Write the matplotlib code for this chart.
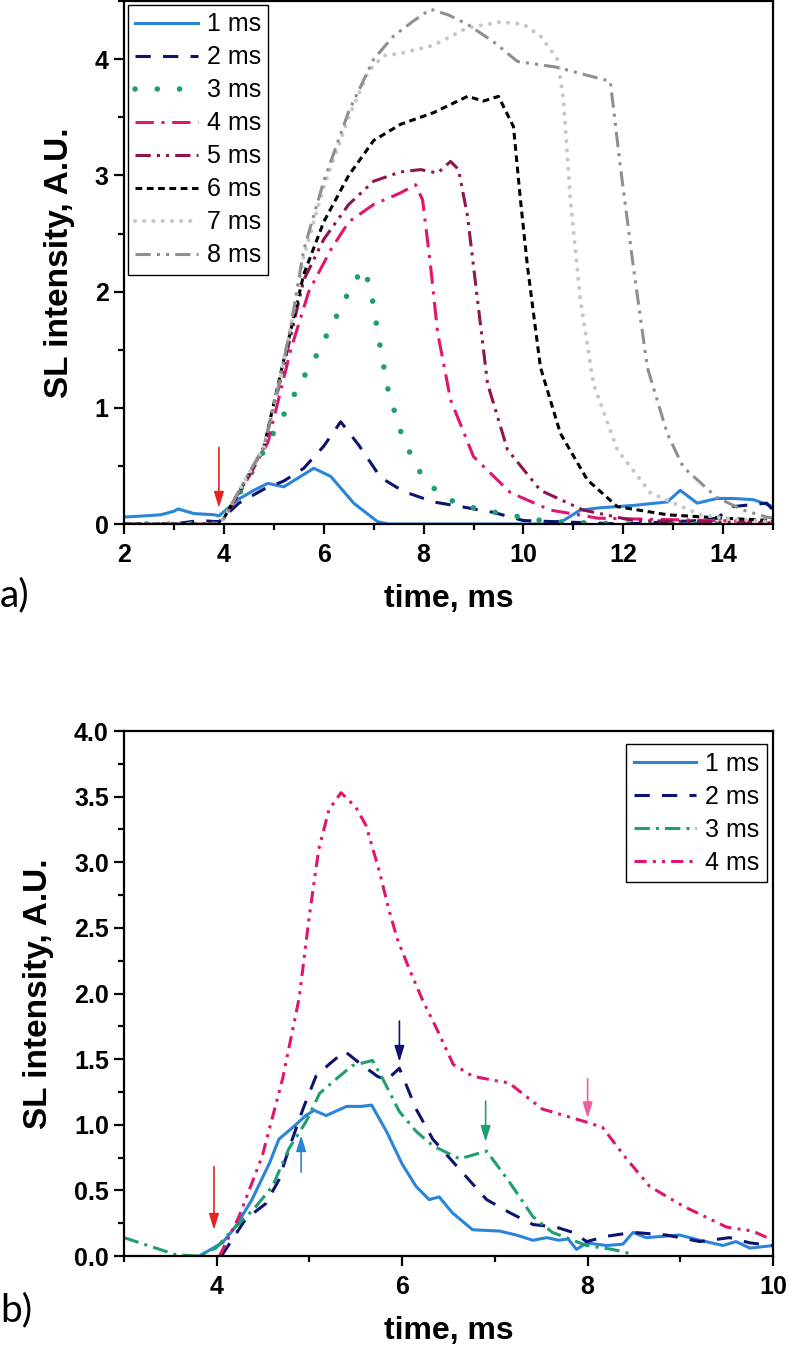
import numpy as np
import matplotlib
matplotlib.use('Agg')
import matplotlib.pyplot as plt
from matplotlib.ticker import MultipleLocator, FormatStrFormatter

plt.rcParams['font.family'] = ['Liberation Sans', 'DejaVu Sans']
plt.rcParams['font.weight'] = 'bold'
plt.rcParams['axes.labelweight'] = 'bold'

# ---- panel a) data: SL intensity vs time for pulse lengths 1..8 ms
a_labels = ['1 ms', '2 ms', '3 ms', '4 ms', '5 ms', '6 ms', '7 ms', '8 ms']

a_t1 = [2.0, 2.4, 2.74, 3.0, 3.08, 3.4, 3.8, 3.9, 4.28, 4.6, 4.88, 5.2, 5.5, 5.8, 6.14, 6.6, 7.08, 7.3,
        10.5, 10.8, 11.14, 11.54, 12.2, 12.88, 13.14, 13.48, 13.88, 14.2, 14.6, 14.94, 15.0]
a_v1 = [0.06, 0.07, 0.08, 0.11, 0.13, 0.09, 0.08, 0.07, 0.21, 0.29, 0.35, 0.32, 0.4, 0.48, 0.41, 0.18, 0.02, 0.0,
        0.0, 0.03, 0.12, 0.14, 0.16, 0.19, 0.29, 0.18, 0.22, 0.22, 0.21, 0.16, 0.14]

a_t2 = [2.0, 3.0, 3.5, 3.9, 4.0, 4.3, 4.8, 5.2, 5.6, 6.0, 6.34, 6.7, 7.14, 7.6, 8.2, 8.88, 9.4, 10.0,
        12.0, 13.0, 13.5, 13.87, 14.2, 14.87, 15.0]
a_v2 = [0.0, 0.0, 0.03, 0.02, 0.06, 0.18, 0.3, 0.37, 0.48, 0.67, 0.88, 0.68, 0.4, 0.28, 0.19, 0.14, 0.1, 0.03,
        0.0, 0.02, 0.03, 0.05, 0.15, 0.18, 0.12]

a_t3 = [2.0, 3.9, 4.0, 4.4, 4.8, 5.14, 5.34, 5.5, 5.74, 5.94, 6.14, 6.34, 6.54, 6.78, 6.94, 7.0, 7.14, 7.3,
        7.54, 7.84, 8.08, 8.4, 8.8, 9.2, 9.68, 10.5, 12.0, 15.0]
a_v3 = [0.0, 0.0, 0.07, 0.32, 0.63, 0.9, 1.04, 1.21, 1.35, 1.53, 1.69, 1.86, 2.03, 2.2, 2.04, 1.86, 1.5, 1.13,
        0.8, 0.5, 0.36, 0.23, 0.16, 0.12, 0.08, 0.02, 0.0, 0.0]

a_t4 = [2.0, 3.9, 4.0, 4.4, 4.88, 5.34, 5.7, 6.14, 6.5, 7.0, 7.54, 7.84, 7.98, 8.14, 8.28, 8.54, 9.0, 9.74,
        10.54, 11.5, 15.0]
a_v4 = [0.0, 0.0, 0.05, 0.33, 0.7, 1.5, 2.0, 2.36, 2.6, 2.75, 2.85, 2.92, 2.79, 2.22, 1.65, 1.07, 0.58, 0.27,
        0.12, 0.05, 0.02]

a_t5 = [2.0, 3.9, 4.0, 4.4, 4.8, 5.14, 5.6, 6.0, 6.5, 7.0, 7.54, 7.94, 8.28, 8.54, 8.7, 8.88, 9.08, 9.28,
        9.68, 10.34, 11.2, 12.2, 15.0]
a_v5 = [0.0, 0.0, 0.05, 0.35, 0.66, 1.25, 2.1, 2.45, 2.75, 2.95, 3.03, 3.05, 3.02, 3.12, 3.05, 2.65, 1.93, 1.21,
        0.64, 0.29, 0.12, 0.03, 0.01]

a_t6 = [2.0, 3.9, 4.0, 4.4, 4.8, 5.14, 5.6, 6.0, 6.5, 7.0, 7.54, 8.2, 8.88, 9.2, 9.5, 9.8, 9.94, 10.08,
        10.34, 10.74, 11.28, 11.88, 12.88, 14.0, 15.0]
a_v6 = [0.0, 0.0, 0.05, 0.35, 0.66, 1.3, 2.15, 2.6, 3.0, 3.3, 3.44, 3.54, 3.68, 3.64, 3.68, 3.42, 2.79, 2.22,
        1.35, 0.78, 0.38, 0.15, 0.08, 0.05, 0.03]

a_t7 = [2.0, 3.9, 4.0, 4.4, 4.8, 5.1, 5.34, 5.6, 6.0, 6.5, 6.9, 7.2, 7.54, 8.2, 8.88, 9.54, 10.0, 10.34,
        10.68, 10.8, 10.94, 11.14, 11.4, 11.88, 12.54, 13.54, 14.2, 15.0]
a_v7 = [0.0, 0.0, 0.05, 0.36, 0.66, 1.2, 1.7, 2.3, 2.9, 3.5, 3.9, 4.03, 4.05, 4.12, 4.27, 4.32, 4.3, 4.2,
        4.0, 3.66, 2.79, 1.93, 1.21, 0.64, 0.27, 0.08, 0.04, 0.02]

a_t8 = [2.0, 3.9, 4.0, 4.4, 4.8, 5.1, 5.34, 5.6, 6.0, 6.5, 7.0, 7.4, 7.8, 8.14, 8.5, 8.88, 9.4, 9.88,
        10.68, 11.2, 11.74, 11.94, 12.2, 12.48, 12.88, 13.2, 13.87, 14.4, 14.87, 15.0]
a_v8 = [0.0, 0.0, 0.05, 0.36, 0.66, 1.2, 1.7, 2.36, 2.95, 3.55, 4.0, 4.2, 4.33, 4.43, 4.38, 4.3, 4.15, 3.98,
        3.93, 3.87, 3.81, 3.08, 2.22, 1.35, 0.78, 0.49, 0.23, 0.12, 0.06, 0.05]

# ---- panel b) data
b_labels = ['1 ms', '2 ms', '3 ms', '4 ms']

b_t1 = [3.81, 4.06, 4.2, 4.38, 4.57, 4.67, 4.82, 4.96, 5.05, 5.18, 5.4, 5.56, 5.67, 5.83, 6.0, 6.15, 6.29,
        6.4, 6.54, 6.76, 7.05, 7.23, 7.41, 7.56, 7.69, 7.79, 7.88, 7.99, 8.2, 8.38, 8.49, 8.63, 8.99, 9.21,
        9.46, 9.6, 9.75, 10.0]
b_v1 = [0.0, 0.1, 0.22, 0.43, 0.71, 0.89, 0.98, 1.07, 1.11, 1.07, 1.14, 1.14, 1.15, 0.95, 0.7, 0.53, 0.43,
        0.45, 0.33, 0.2, 0.19, 0.16, 0.12, 0.14, 0.12, 0.13, 0.05, 0.1, 0.08, 0.09, 0.18, 0.14, 0.16, 0.12,
        0.08, 0.11, 0.06, 0.08]

b_t2 = [4.05, 4.31, 4.53, 4.67, 4.78, 4.93, 5.07, 5.21, 5.38, 5.54, 5.73, 5.83, 5.97, 6.15, 6.33, 6.62,
        6.91, 7.16, 7.41, 7.66, 7.84, 7.99, 8.2, 8.49, 8.85, 9.21, 9.53, 9.75, 10.0]
b_v2 = [0.0, 0.28, 0.4, 0.58, 0.82, 1.12, 1.37, 1.46, 1.56, 1.47, 1.37, 1.34, 1.43, 1.12, 0.89, 0.66,
        0.43, 0.33, 0.24, 0.22, 0.18, 0.11, 0.15, 0.18, 0.16, 0.11, 0.14, 0.1, 0.08]

b_t3 = [3.0, 3.3, 3.56, 3.8, 3.99, 4.17, 4.39, 4.6, 4.78, 4.96, 5.11, 5.29, 5.46, 5.68, 5.79, 5.97, 6.15,
        6.33, 6.62, 6.91, 7.16, 7.41, 7.62, 7.99, 8.27, 8.45, 8.5]
b_v3 = [0.14, 0.07, 0.01, 0.0, 0.06, 0.2, 0.35, 0.53, 0.82, 1.02, 1.24, 1.35, 1.45, 1.49, 1.35, 1.1, 0.95,
        0.84, 0.74, 0.8, 0.56, 0.3, 0.18, 0.08, 0.05, 0.02, 0.0]

b_t4 = [4.03, 4.24, 4.49, 4.71, 4.89, 5.0, 5.1, 5.21, 5.34, 5.5, 5.61, 5.75, 5.86, 5.95, 6.08, 6.22, 6.38,
        6.55, 6.76, 7.05, 7.15, 7.51, 7.99, 8.16, 8.42, 8.67, 9.03, 9.5, 9.78, 10.0]
b_v4 = [0.0, 0.3, 0.76, 1.35, 1.97, 2.6, 3.1, 3.4, 3.53, 3.42, 3.28, 2.94, 2.63, 2.41, 2.18, 1.95, 1.72,
        1.46, 1.37, 1.33, 1.32, 1.12, 1.02, 0.98, 0.74, 0.53, 0.38, 0.22, 0.19, 0.12]

# arrows (time, tail value, head value)
a_arrow = (3.9, 0.66, 0.14)
b_arrows_t = [3.97, 4.91, 5.97, 6.9, 8.0]
b_arrows_tail = [0.68, 0.64, 1.79, 1.18, 1.35]
b_arrows_head = [0.2, 0.92, 1.48, 0.87, 1.05]

blue = '#2a84d8'
navy = '#0c1470'
green = '#1f9e70'
pink = '#e0156f'
maroon = '#8e1550'
lgray = '#c8c8c8'
dgray = '#8f8f8f'
b_arrow_colors = ['#e8231e', blue, navy, green, '#f0609f']

fig = plt.figure(figsize=(7.87, 13.52), dpi=100)
ax1 = fig.add_axes([0.1576, 0.6124, 0.8247, 0.3868])
ax2 = fig.add_axes([0.1576, 0.0710, 0.8247, 0.3883])

lw = 2.2
ax1.plot(a_t1, a_v1, color=blue, lw=lw, label=a_labels[0])
ax1.plot(a_t2, a_v2, color=navy, lw=lw, ls=(0, (5, 4)), label=a_labels[1])
ax1.plot(a_t3, a_v3, color=green, lw=4, ls=(0, (0.01, 4)), dash_capstyle='round', label=a_labels[2])
ax1.plot(a_t4, a_v4, color=pink, lw=lw, ls=(0, (6, 2.5, 1, 2.5)), label=a_labels[3])
ax1.plot(a_t5, a_v5, color=maroon, lw=lw, ls=(0, (5, 2, 1, 2, 1, 2)), label=a_labels[4])
ax1.plot(a_t6, a_v6, color='black', lw=lw, ls=(0, (2.2, 1.5)), label=a_labels[5])
ax1.plot(a_t7, a_v7, color=lgray, lw=3, ls=(0, (0.01, 2.2)), dash_capstyle='round', label=a_labels[6])
ax1.plot(a_t8, a_v8, color=dgray, lw=lw, ls=(0, (5, 2, 1, 2, 1, 2)), label=a_labels[7])

ax2.plot(b_t1, b_v1, color=blue, lw=lw, label=b_labels[0])
ax2.plot(b_t2, b_v2, color=navy, lw=lw, ls=(0, (5, 4)), label=b_labels[1])
ax2.plot(b_t3, b_v3, color=green, lw=lw, ls=(0, (5, 2, 1, 2)), label=b_labels[2])
ax2.plot(b_t4, b_v4, color=pink, lw=lw, ls=(0, (4, 2, 1, 2, 1, 2)), label=b_labels[3])

arrow_style = '-|>,head_length=0.8,head_width=0.25'
ax1.annotate('', xy=(a_arrow[0], a_arrow[2]), xytext=(a_arrow[0], a_arrow[1]),
             arrowprops=dict(arrowstyle=arrow_style, color='#e8231e', lw=1.2, mutation_scale=12,
                             shrinkA=0, shrinkB=0))
for t, v0, v1, c in zip(b_arrows_t, b_arrows_tail, b_arrows_head, b_arrow_colors):
    ax2.annotate('', xy=(t, v1), xytext=(t, v0),
                 arrowprops=dict(arrowstyle=arrow_style, color=c, lw=1.2, mutation_scale=12,
                                 shrinkA=0, shrinkB=0))

ax1.set_xlim(2, 15)
ax1.set_ylim(0, 4.5)
ax1.xaxis.set_major_locator(MultipleLocator(2))
ax1.xaxis.set_minor_locator(MultipleLocator(1))
ax1.yaxis.set_major_locator(MultipleLocator(1))
ax1.yaxis.set_minor_locator(MultipleLocator(0.5))

ax2.set_xlim(3, 10)
ax2.set_ylim(0, 4.0)
ax2.xaxis.set_major_locator(MultipleLocator(2))
ax2.xaxis.set_minor_locator(MultipleLocator(1))
ax2.yaxis.set_major_locator(MultipleLocator(0.5))
ax2.yaxis.set_minor_locator(MultipleLocator(0.25))
ax2.yaxis.set_major_formatter(FormatStrFormatter('%.1f'))

for ax in (ax1, ax2):
    for s in ax.spines.values():
        s.set_linewidth(1.6)
    ax.tick_params(which='major', direction='out', length=7, width=1.6, labelsize=18)
    ax.tick_params(which='minor', direction='out', length=4, width=1.6)
    ax.tick_params(axis='x', which='major', pad=7)
    ax.tick_params(axis='y', which='major', pad=4)
    ax.set_xlabel('time, ms', fontsize=23, labelpad=12)
    ax.set_ylabel('SL intensity, A.U.', fontsize=24, labelpad=14)

leg_kw = dict(prop={'weight': 'normal', 'size': 18}, fancybox=False, edgecolor='black',
              framealpha=1, handlelength=2.5, handletextpad=0.35, borderpad=0.3, labelspacing=0.36)
l1 = ax1.legend(loc='upper left', borderaxespad=0.15, **leg_kw)
l2 = ax2.legend(loc='upper right', bbox_to_anchor=(0.99, 0.975), borderaxespad=0, **leg_kw)
for l in (l1, l2):
    l.get_frame().set_linewidth(1.0)

fig.text(0.0, 1 - 595 / 1352, 'a)', fontsize=28, fontweight='normal', va='center', ha='left',
         family=['Lato', 'DejaVu Sans'])
fig.text(0.0, 1 - 1310 / 1352, 'b)', fontsize=28, fontweight='normal', va='center', ha='left',
         family=['Lato', 'DejaVu Sans'])

fig.savefig('out.png', dpi=100)
